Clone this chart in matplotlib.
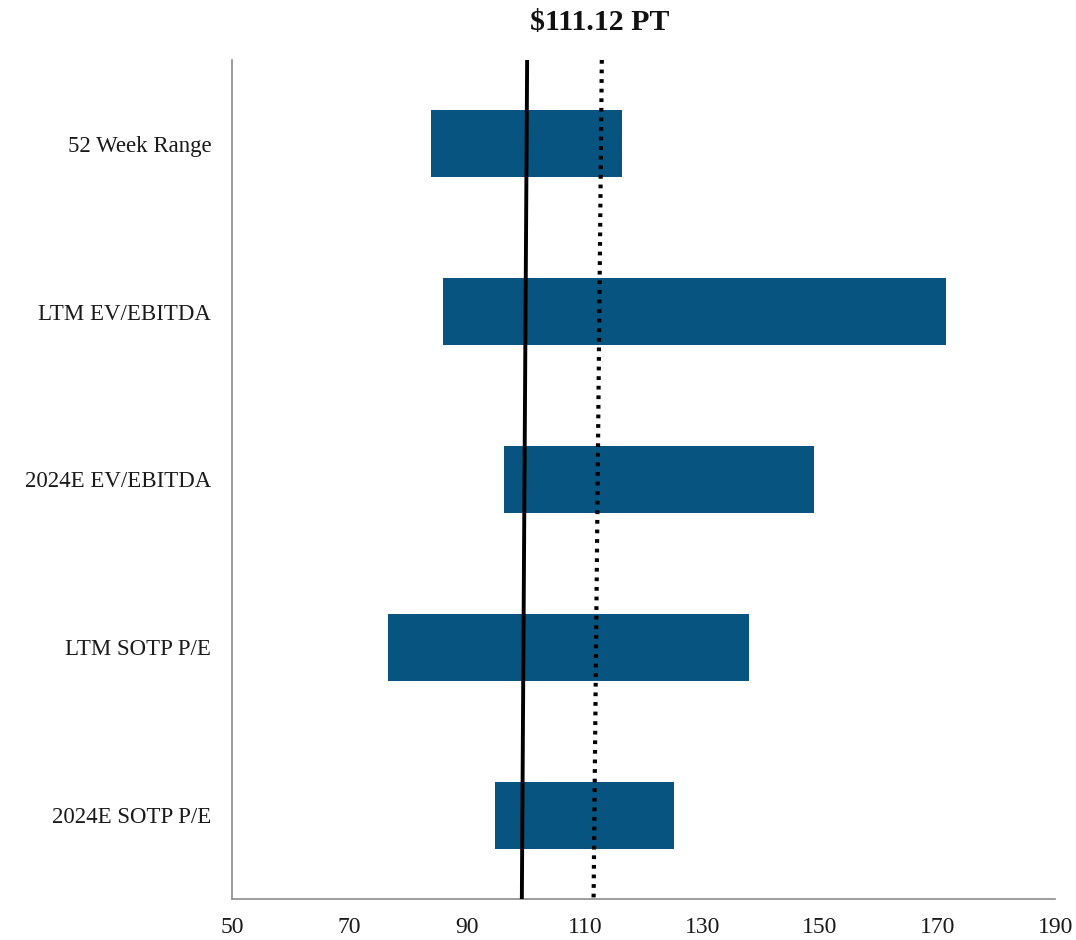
import matplotlib
matplotlib.use("Agg")
import matplotlib.pyplot as plt

# valuation ranges ($ per share)
categories = ["52 Week Range", "LTM EV/EBITDA", "2024E EV/EBITDA",
              "LTM SOTP P/E", "2024E SOTP P/E"]
low = [83.8, 85.9, 96.3, 76.5, 94.7]
high = [116.3, 171.4, 149.0, 137.9, 125.2]

# reference lines, value at top and bottom of the plot
current_price = [100.2, 99.3]
price_target = [112.9, 111.5]
title = "$111.12 PT"

xticks = [50, 70, 90, 110, 130, 150, 170, 190]

plt.rcParams["font.family"] = ["Liberation Serif", "DejaVu Serif"]

fig = plt.figure(figsize=(10.76, 9.40), dpi=100)
ax = fig.add_axes([0.2156, 0.0436, 0.765, 0.8926])

bar_color = "#06547F"
ypos = list(range(len(categories)))
widths = [h - l for l, h in zip(low, high)]
ax.barh(ypos, widths, left=low, height=0.4, color=bar_color, zorder=2)

ax.set_ylim(len(categories) - 0.5, -0.5)
ax.set_xlim(xticks[0], xticks[-1])

ax.plot(current_price, [-0.5, len(categories) - 0.5], color="black", lw=2.8,
        solid_capstyle="butt", zorder=3, clip_on=False)
ax.plot(price_target, [-0.5, len(categories) - 0.5], color="black", lw=3.0,
        linestyle=(0, (0.9, 1.4)), dash_capstyle="butt", zorder=3, clip_on=False)

ax.set_yticks(ypos)
ax.set_yticklabels(categories, fontsize=16.5, color="#1a1a1a")
ax.set_xticks(xticks)
ax.set_xticklabels([str(t) for t in xticks], fontsize=17, color="#1a1a1a")
ax.tick_params(axis="both", length=0)
ax.tick_params(axis="y", pad=15)
ax.tick_params(axis="x", pad=13)

for side in ["top", "right"]:
    ax.spines[side].set_visible(False)
for side in ["left", "bottom"]:
    ax.spines[side].set_color("#8c8c8c")
    ax.spines[side].set_linewidth(1.2)

fig.text(0.5576, 0.976, title, ha="center", va="center", fontsize=21.5,
         fontweight="bold", color="#111111")

fig.savefig("out.png", dpi=100)
